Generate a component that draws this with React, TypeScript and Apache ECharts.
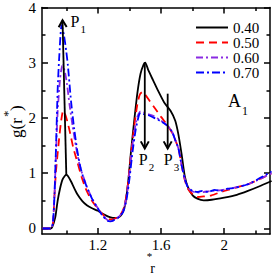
import React, { useEffect, useRef } from "react";
import * as echarts from "echarts";

const FONT = "Liberation Serif";

const seriesNames = ["0.40", "0.50", "0.60", "0.70"];
const seriesColors = ["#000000", "#ff0000", "#8a2be2", "#0000ff"];

const black040: [number, number][] = [
  [0.85, 0], [0.9, 0], [0.91, 0.02], [0.93, 0.2], [0.945, 0.5], [0.96, 0.72], [0.975, 0.88],
  [0.99, 0.95], [1.0, 0.97], [1.01, 0.95], [1.03, 0.85], [1.05, 0.73], [1.07, 0.62], [1.1, 0.5],
  [1.13, 0.42], [1.16, 0.37], [1.2, 0.32], [1.24, 0.25], [1.28, 0.2], [1.31, 0.19], [1.33, 0.2],
  [1.35, 0.25], [1.37, 0.4], [1.39, 0.8], [1.41, 1.4], [1.43, 1.95], [1.45, 2.45], [1.47, 2.8],
  [1.49, 2.97], [1.5, 3.0], [1.52, 2.86], [1.55, 2.68], [1.58, 2.5], [1.62, 2.28], [1.66, 2.13],
  [1.69, 1.95], [1.71, 1.7], [1.73, 1.35], [1.75, 0.95], [1.77, 0.75], [1.8, 0.6], [1.83, 0.54],
  [1.87, 0.51], [1.92, 0.52], [2.0, 0.56], [2.08, 0.61], [2.15, 0.68], [2.22, 0.76], [2.3, 0.86],
];

const red050: [number, number][] = [
  [0.85, 0], [0.9, 0], [0.915, 0.08], [0.925, 0.6], [0.935, 1.05], [0.95, 1.5], [0.965, 1.9],
  [0.98, 2.13], [0.995, 2.05], [1.01, 1.9], [1.03, 1.65], [1.045, 1.45], [1.07, 1.2], [1.095, 0.95],
  [1.12, 0.74], [1.15, 0.56], [1.18, 0.43], [1.21, 0.32], [1.24, 0.23], [1.27, 0.17], [1.29, 0.16],
  [1.32, 0.2], [1.35, 0.28], [1.37, 0.42], [1.39, 0.8], [1.41, 1.35], [1.43, 1.85], [1.45, 2.25],
  [1.465, 2.42], [1.48, 2.47], [1.5, 2.42], [1.53, 2.3], [1.56, 2.18], [1.6, 2.02], [1.64, 1.87],
  [1.67, 1.73], [1.69, 1.6], [1.71, 1.45], [1.73, 1.15], [1.75, 0.88], [1.77, 0.72], [1.8, 0.62],
  [1.83, 0.57], [1.87, 0.58], [1.92, 0.6], [1.97, 0.65], [2.0, 0.68], [2.05, 0.72], [2.1, 0.76],
  [2.15, 0.8], [2.2, 0.86], [2.25, 0.93], [2.3, 0.99],
];

const purple060: [number, number][] = [
  [0.85, 0], [0.9, 0], [0.915, 0.1], [0.925, 0.6], [0.935, 1.4], [0.945, 2.1], [0.96, 2.7],
  [0.975, 2.95], [0.99, 2.85], [1.005, 2.6], [1.02, 2.25], [1.04, 1.85], [1.06, 1.5], [1.08, 1.2],
  [1.1, 1.0], [1.13, 0.76], [1.16, 0.56], [1.19, 0.41], [1.22, 0.28], [1.25, 0.18], [1.27, 0.14],
  [1.29, 0.14], [1.32, 0.18], [1.35, 0.27], [1.37, 0.42], [1.39, 0.75], [1.41, 1.3], [1.43, 1.75],
  [1.45, 2.02], [1.47, 2.12], [1.49, 2.1], [1.52, 2.07], [1.55, 2.04], [1.6, 1.95], [1.64, 1.86],
  [1.67, 1.75], [1.69, 1.6], [1.71, 1.45], [1.73, 1.15], [1.75, 0.9], [1.77, 0.74], [1.8, 0.67],
  [1.83, 0.65], [1.87, 0.66], [1.92, 0.68], [1.97, 0.69], [2.02, 0.71], [2.08, 0.75], [2.14, 0.79],
  [2.2, 0.86], [2.25, 0.93], [2.3, 1.0],
];

const blue070: [number, number][] = [
  [0.85, 0], [0.9, 0], [0.915, 0.1], [0.925, 0.6], [0.935, 1.5], [0.945, 2.5], [0.955, 3.1],
  [0.97, 3.68], [0.985, 3.5], [1.0, 3.2], [1.01, 2.95], [1.03, 2.3], [1.05, 1.8], [1.07, 1.4],
  [1.09, 1.1], [1.11, 0.9], [1.14, 0.68], [1.17, 0.5], [1.2, 0.36], [1.23, 0.23], [1.26, 0.14],
  [1.28, 0.13], [1.3, 0.15], [1.33, 0.2], [1.36, 0.3], [1.38, 0.5], [1.4, 0.9], [1.42, 1.4],
  [1.44, 1.8], [1.46, 2.05], [1.47, 2.09], [1.49, 2.07], [1.52, 2.05], [1.55, 2.01], [1.6, 1.94],
  [1.64, 1.86], [1.67, 1.75], [1.69, 1.6], [1.71, 1.45], [1.73, 1.15], [1.75, 0.9], [1.77, 0.75],
  [1.8, 0.68], [1.83, 0.66], [1.86, 0.68], [1.9, 0.66], [1.94, 0.7], [1.98, 0.68], [2.02, 0.72],
  [2.06, 0.73], [2.1, 0.76], [2.15, 0.8], [2.2, 0.87], [2.25, 0.95], [2.3, 1.03],
];

const seriesData = [black040, red050, purple060, blue070];
const seriesDash: any[] = ["solid", [8, 5], [7, 3, 2, 3], [8, 3, 2, 3]];

const xMajorTicks = [1.2, 1.6, 2.0];
const xMinorTicks = [1.0, 1.4, 1.8, 2.2];
const yMajorTicks = [0, 1, 2, 3, 4];
const yMinorTicks = [0.5, 1.5, 2.5, 3.5];

const X_MIN = 0.846;
const X_MAX = 2.29;
const Y_MIN = -0.1;
const Y_MAX = 4;

// Arrow annotations in data coordinates: [from, to]
const arrows: { from: [number, number]; to: [number, number]; label: string; sub: string; dx: number; dy: number }[] = [
  { from: [1.0, 0.97], to: [0.976, 3.77], label: "P", sub: "1", dx: 8, dy: 1 },
  { from: [1.497, 3.0], to: [1.497, 1.45], label: "P", sub: "2", dx: -6, dy: 11 },
  { from: [1.642, 2.44], to: [1.642, 1.45], label: "P", sub: "3", dx: -4, dy: 11 },
];

function makeX(pos: "bottom" | "top", ticks: number[], len: number, showLine: boolean, showLabel: boolean) {
  return {
    type: "value",
    position: pos,
    min: X_MIN,
    max: X_MAX,
    axisLine: { show: showLine, onZero: false, lineStyle: { color: "#000", width: 1.5 } },
    axisTick: { show: true, inside: true, length: len, customValues: ticks, lineStyle: { color: "#000", width: 1.5 } },
    axisLabel: {
      show: showLabel,
      customValues: ticks,
      margin: 5,
      fontFamily: FONT,
      fontSize: 15,
      lineHeight: 11,
      color: "#000",
      formatter: (v: number) => String(Math.round(v * 10) / 10),
    },
    splitLine: { show: false },
  };
}

function makeY(pos: "left" | "right", ticks: number[], len: number, showLine: boolean, showLabel: boolean) {
  return {
    type: "value",
    position: pos,
    min: Y_MIN,
    max: Y_MAX,
    axisLine: { show: showLine, onZero: false, lineStyle: { color: "#000", width: 1.5 } },
    axisTick: { show: true, inside: true, length: len, customValues: ticks, lineStyle: { color: "#000", width: 1.5 } },
    axisLabel: {
      show: showLabel,
      customValues: ticks,
      margin: 6,
      fontFamily: FONT,
      fontSize: 15,
      color: "#000",
      formatter: (v: number) => String(Math.round(v)),
    },
    splitLine: { show: false },
  };
}

export default function App() {
  const ref = useRef<HTMLDivElement>(null);

  useEffect(() => {
    if (!ref.current) return;
    const chart = echarts.init(ref.current, null, { renderer: "svg" });
    const option: any = {
      animation: false,
      backgroundColor: "#ffffff",
      grid: { left: 42, right: 3, top: 6, bottom: 41, containLabel: false },
      legend: {
        orient: "vertical",
        left: 190,
        top: 15,
        itemWidth: 32,
        itemHeight: 13,
        itemGap: 0,
        data: seriesNames,
        itemStyle: { opacity: 0 },
        textStyle: { fontFamily: FONT, fontSize: 15, color: "#000", lineHeight: 13 },
      },
      xAxis: [
        makeX("bottom", xMajorTicks, 6, true, true),
        makeX("bottom", xMinorTicks, 3.5, false, false),
        makeX("top", xMajorTicks, 6, true, false),
        makeX("top", xMinorTicks, 3.5, false, false),
      ],
      yAxis: [
        makeY("left", yMajorTicks, 6, true, true),
        makeY("left", yMinorTicks, 3.5, false, false),
        makeY("right", yMajorTicks, 6, true, false),
        makeY("right", yMinorTicks, 3.5, false, false),
      ],
      series: seriesNames.map((name, i) => ({
        name,
        type: "line",
        xAxisIndex: 0,
        yAxisIndex: 0,
        data: seriesData[i],
        symbol: "none",
        smooth: 0.2,
        lineStyle: { color: seriesColors[i], width: 1.8, type: seriesDash[i] },
        itemStyle: { color: seriesColors[i] },
        z: 2 + i,
      })),
    };
    chart.setOption(option);

    const toPx = (p: [number, number]) =>
      chart.convertToPixel({ xAxisIndex: 0, yAxisIndex: 0 }, p) as number[];

    const graphics: any[] = [];
    arrows.forEach((a) => {
      const f = toPx(a.from);
      const t = toPx(a.to);
      const dx = t[0] - f[0];
      const dy = t[1] - f[1];
      const L = Math.sqrt(dx * dx + dy * dy);
      const ux = dx / L;
      const uy = dy / L;
      const head = 7;
      const half = 4;
      const bx = t[0] - ux * head;
      const by = t[1] - uy * head;
      graphics.push({
        type: "line",
        shape: { x1: f[0], y1: f[1], x2: t[0], y2: t[1] },
        style: { stroke: "#000", lineWidth: 1.8 },
        z: 100,
      });
      graphics.push({
        type: "polyline",
        shape: {
          points: [
            [bx - uy * half, by + ux * half],
            [t[0], t[1]],
            [bx + uy * half, by - ux * half],
          ],
        },
        style: { stroke: "#000", lineWidth: 2, fill: null },
        z: 100,
      });
      graphics.push({
        type: "text",
        x: t[0] + a.dx,
        y: t[1] + a.dy,
        style: { text: a.label, font: `16px ${FONT}`, fill: "#000", align: "left", verticalAlign: "middle" },
        z: 100,
      });
      graphics.push({
        type: "text",
        x: t[0] + a.dx + 10,
        y: t[1] + a.dy + 8,
        style: { text: a.sub, font: `11px ${FONT}`, fill: "#000", align: "left", verticalAlign: "middle" },
        z: 100,
      });
    });

    // A1 label
    graphics.push({
      type: "text",
      x: 228,
      y: 101,
      style: { text: "A", font: `18px ${FONT}`, fill: "#000", align: "left", verticalAlign: "middle" },
    });
    graphics.push({
      type: "text",
      x: 242,
      y: 111,
      style: { text: "1", font: `12px ${FONT}`, fill: "#000", align: "left", verticalAlign: "middle" },
    });

    // y-axis title g(r*)
    graphics.push({
      type: "group",
      x: 16,
      y: 138,
      rotation: Math.PI / 2,
      children: [
        { type: "text", x: 0, y: 0, style: { text: "g(r", font: `17px ${FONT}`, fill: "#000", align: "left", verticalAlign: "middle" } },
        { type: "text", x: 21, y: -9, style: { text: "*", font: `13px ${FONT}`, fill: "#000", align: "left", verticalAlign: "middle" } },
        { type: "text", x: 27, y: 0, style: { text: ")", font: `17px ${FONT}`, fill: "#000", align: "left", verticalAlign: "middle" } },
      ],
    });

    // x-axis title r* (asterisk above r)
    graphics.push({
      type: "text",
      x: 149.5,
      y: 250,
      style: { text: "*", fontFamily: FONT, fontSize: 11, lineHeight: 11, fill: "#000", align: "center", verticalAlign: "top" },
    });
    graphics.push({
      type: "text",
      x: 152.5,
      y: 261,
      style: { text: "r", fontFamily: FONT, fontSize: 14, lineHeight: 14, fill: "#000", align: "center", verticalAlign: "top" },
    });

    chart.setOption({ graphic: graphics });

    return () => chart.dispose();
  }, []);

  return (
    <div
      ref={ref}
      style={{ position: "fixed", left: 0, top: 0, width: 273, height: 275, background: "#fff" }}
    />
  );
}
